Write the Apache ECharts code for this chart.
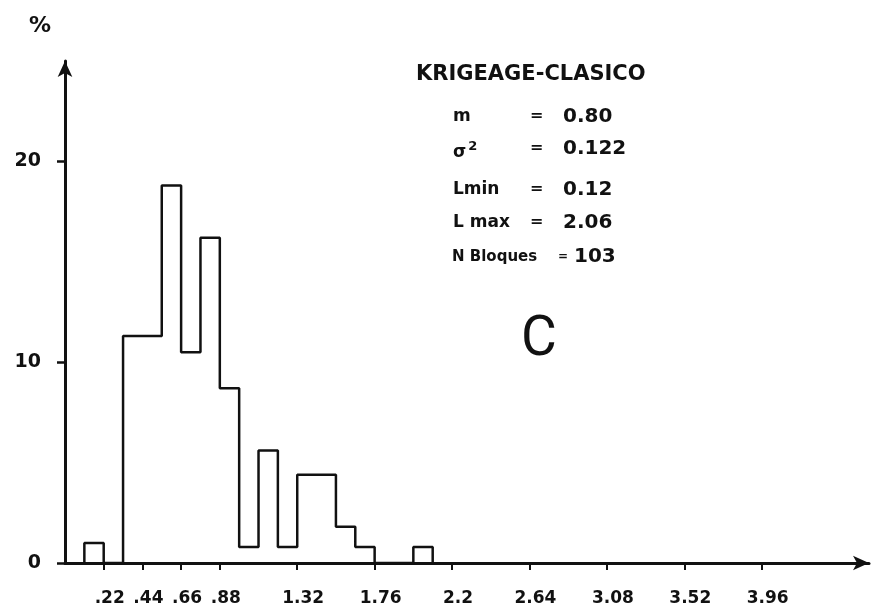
<!DOCTYPE html>
<html>
<head>
<meta charset="utf-8">
<title>Krigeage clasico - histograma</title>
<script src="https://cdn.jsdelivr.net/npm/echarts@6/dist/echarts.min.js"></script>
<style>
  html, body { margin: 0; padding: 0; background: #fff; }
  #chart { width: 878px; height: 612px; }
</style>
</head>
<body>
<div id="chart"></div>
<script>
// histogram bins (lower edges, last one closes the final bin) and % of blocks
const binEdges = [0.11, 0.22, 0.33, 0.44, 0.55, 0.66, 0.77, 0.88, 0.99, 1.10,
  1.21, 1.32, 1.43, 1.54, 1.65, 1.76, 1.87, 1.98, 2.09];
const percent = [1.0, 0, 11.3, 11.3, 18.8, 10.5, 16.2, 8.7, 0.8, 5.6,
  0.8, 4.4, 4.4, 1.8, 0.8, 0, 0, 0.8];

const xTickValues = [0.22, 0.44, 0.66, 0.88, 1.32, 1.76, 2.2, 2.64, 3.08, 3.52, 3.96];
const xTickLabels = ['.22', '.44', '.66', '.88', '1.32', '1.76', '2.2', '2.64', '3.08', '3.52', '3.96'];
const yTickValues = [0, 10, 20];

const statNames = ['m', 'σ{sup|2}', 'Lmin', 'L max'];
const statValues = ['0.80', '0.122', '0.12', '2.06'];
const nBloques = 103;

// outline of the histogram as a step line
const stepData = [[binEdges[0], 0]];
percent.forEach((p, i) => stepData.push([binEdges[i], p]));
stepData.push([binEdges[binEdges.length - 1], 0]);

const ink = '#111';
const boldFont = 'DejaVu Sans';

const statRows = [119, 151, 192, 225];
const statGraphics = [];
statNames.forEach((name, i) => {
  statGraphics.push({
    type: 'text', left: 453, top: statRows[i] - 11,
    style: {
      text: name, fill: ink, font: 'bold 17px ' + boldFont,
      rich: { sup: { fontSize: 13, fontWeight: 'bold', fontFamily: boldFont, verticalAlign: 'top', padding: [0, 0, 12, 2] } }
    }
  });
  statGraphics.push({
    type: 'text', left: 530, top: statRows[i] - 11,
    style: { text: '=', fill: ink, font: 'bold 16px ' + boldFont }
  });
  statGraphics.push({
    type: 'text', left: 563, top: statRows[i] - 12,
    style: { text: statValues[i], fill: ink, font: 'bold 20px ' + boldFont }
  });
});

const chart = echarts.init(document.getElementById('chart'));
chart.setOption({
  animation: false,
  backgroundColor: '#fff',
  grid: { left: 65, right: 9, top: 61, bottom: 49 },
  xAxis: {
    type: 'value',
    min: 0,
    max: 4.57,
    axisLine: {
      onZero: true,
      symbol: ['none', 'arrow'],
      symbolSize: [11, 16],
      lineStyle: { color: ink, width: 3 }
    },
    axisTick: {
      customValues: xTickValues,
      length: 7,
      lineStyle: { color: ink, width: 2 }
    },
    axisLabel: {
      customValues: xTickValues,
      formatter: v => xTickLabels[xTickValues.indexOf(v)],
      margin: 27,
      padding: [0, 0, 0, 12],
      color: ink,
      fontFamily: boldFont,
      fontWeight: 'bold',
      fontSize: 17
    },
    splitLine: { show: false }
  },
  yAxis: {
    type: 'value',
    min: 0,
    max: 25,
    axisLine: {
      show: true,
      symbol: ['none', 'arrow'],
      symbolSize: [11, 16],
      lineStyle: { color: ink, width: 3 }
    },
    axisTick: {
      show: true,
      customValues: yTickValues,
      length: 8,
      lineStyle: { color: ink, width: 2.5 }
    },
    axisLabel: {
      customValues: yTickValues,
      margin: 24,
      color: ink,
      fontFamily: boldFont,
      fontWeight: 'bold',
      fontSize: 19
    },
    splitLine: { show: false }
  },
  series: [
    {
      type: 'line',
      step: 'end',
      symbol: 'none',
      data: stepData,
      lineStyle: { color: ink, width: 2.5 },
      z: 3
    }
  ],
  graphic: [
    { type: 'text', left: 29, top: 15, style: { text: '%', fill: ink, font: 'bold 22px ' + boldFont } },
    { type: 'text', left: 416, top: 64, style: { text: 'KRIGEAGE-CLASICO', fill: ink, font: 'bold 21px ' + boldFont } },
    ...statGraphics,
    { type: 'text', left: 452, top: 250, style: { text: 'N Bloques', fill: ink, font: 'bold 15px ' + boldFont } },
    { type: 'text', left: 558, top: 251, style: { text: '=', fill: ink, font: 'bold 12px ' + boldFont } },
    { type: 'text', left: 574, top: 247, style: { text: String(nBloques), fill: ink, font: 'bold 20px ' + boldFont } },
    { type: 'text', left: 521, top: 314, style: { text: 'C', fill: ink, font: '55px Roboto' } }
  ]
});
</script>
</body>
</html>
